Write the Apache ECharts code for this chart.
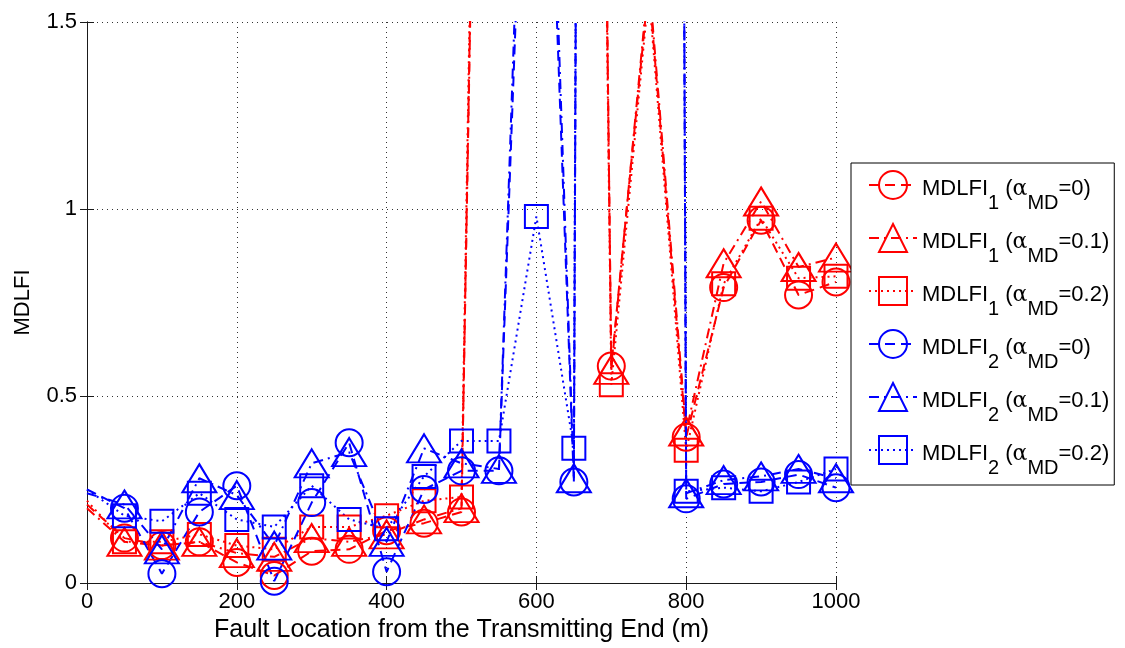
<!DOCTYPE html>
<html>
<head>
<meta charset="utf-8">
<script src="https://cdn.jsdelivr.net/npm/echarts@6/dist/echarts.min.js"></script>
<style>
  html, body { margin: 0; padding: 0; background: #ffffff; }
  #chart { width: 1125px; height: 648px; }
</style>
</head>
<body>
<div id="chart"></div>
<script>
// Fault positions along the line (m)
const faultLocations = [0, 50, 100, 150, 200, 250, 300, 350, 400, 450, 500,
                        550, 600, 650, 700, 750, 800, 850, 900, 950, 1000];

// MDLFI1 index for alpha_MD = 0, 0.1, 0.2
const mdlfi1Alpha0  = [0.21, 0.12, 0.10, 0.11, 0.055, 0.02, 0.085, 0.09, 0.14, 0.16, 0.19,
                       6.0, 8.0, 9.0, 0.58, 1.60, 0.39, 0.79, 0.97, 0.77, 0.805];
const mdlfi1Alpha01 = [0.20, 0.11, 0.10, 0.11, 0.08, 0.07, 0.12, 0.11, 0.13, 0.17, 0.20,
                       5.8, 8.0, 9.2, 0.57, 1.62, 0.405, 0.855, 1.02, 0.845, 0.87];
const mdlfi1Alpha02 = [0.22, 0.11, 0.11, 0.13, 0.10, 0.09, 0.15, 0.15, 0.18, 0.22, 0.23,
                       6.2, 8.0, 8.8, 0.53, 1.58, 0.355, 0.80, 0.975, 0.815, 0.82];

// MDLFI2 index for alpha_MD = 0, 0.1, 0.2
const mdlfi2Alpha0  = [0.25, 0.20, 0.025, 0.19, 0.26, 0.005, 0.215, 0.375, 0.03, 0.25, 0.30,
                       0.30, 3.0, 0.27, 25, 25, 0.225, 0.265, 0.27, 0.29, 0.255];
const mdlfi2Alpha01 = [0.24, 0.21, 0.09, 0.28, 0.235, 0.10, 0.32, 0.35, 0.11, 0.36, 0.32,
                       0.305, 3.2, 0.28, 25, 25, 0.24, 0.275, 0.285, 0.305, 0.28];
const mdlfi2Alpha02 = [0.25, 0.18, 0.165, 0.24, 0.17, 0.15, 0.26, 0.17, 0.145, 0.285, 0.38,
                       0.38, 0.98, 0.36, 25, 25, 0.245, 0.255, 0.245, 0.27, 0.305];

// Axis ticks
const xTicks = [0, 200, 400, 600, 800, 1000];
const yTicks = [0, 0.5, 1, 1.5];

// Legend entries: index number and alpha value
const seriesNames = ['MDLFI1 a0', 'MDLFI1 a0.1', 'MDLFI1 a0.2',
                     'MDLFI2 a0', 'MDLFI2 a0.1', 'MDLFI2 a0.2'];
const legendIndex = ['1', '1', '1', '2', '2', '2'];
const legendAlpha = ['0', '0.1', '0.2', '0', '0.1', '0.2'];

const RED = '#ff0000';
const BLUE = '#0000ff';
const FONT = '"Liberation Sans", Arial, Helvetica, sans-serif';

const dashStyle = [10, 6];
const dashDotStyle = [10, 5, 2, 5];
const dotStyle = [2, 4];

function toPoints(values) {
  // the line enters from the left border; no marker at the origin column
  return faultLocations.map((x, i) =>
    i === 0 ? { value: [x, values[i]], symbol: 'none' } : [x, values[i]]);
}

function makeSeries(name, values, color, symbol, size, dash) {
  return {
    name: name,
    type: 'line',
    xAxisIndex: 0,
    yAxisIndex: 0,
    data: toPoints(values),
    symbol: symbol,
    symbolSize: size,
    showAllSymbol: true,
    clip: true,
    animation: false,
    lineStyle: { color: color, width: 2, type: dash },
    itemStyle: { color: 'rgba(0,0,0,0)', borderColor: color, borderWidth: 2 },
    emphasis: { disabled: true }
  };
}

const series = [
  makeSeries(seriesNames[0], mdlfi1Alpha0,  RED,  'circle',   27,       dashStyle),
  makeSeries(seriesNames[1], mdlfi1Alpha01, RED,  'triangle', [34, 28], dashDotStyle),
  makeSeries(seriesNames[2], mdlfi1Alpha02, RED,  'rect',     23,       dotStyle),
  makeSeries(seriesNames[3], mdlfi2Alpha0,  BLUE, 'circle',   27,       dashStyle),
  makeSeries(seriesNames[4], mdlfi2Alpha01, BLUE, 'triangle', [34, 28], dashDotStyle),
  makeSeries(seriesNames[5], mdlfi2Alpha02, BLUE, 'rect',     23,       dotStyle)
];

const axisLineStyle = { color: '#1a1a1a', width: 1 };
const gridLineStyle = { color: '#333333', width: 1, type: [1, 4] };
const plainNumber = (v) => String(v);

const chart = echarts.init(document.getElementById('chart'), null, { renderer: 'canvas' });

chart.setOption({
  backgroundColor: '#ffffff',
  animation: false,
  textStyle: { fontFamily: FONT },
  grid: { left: 87, right: 289, top: 22, bottom: 64, containLabel: false },
  xAxis: [
    {
      type: 'value', position: 'bottom',
      min: xTicks[0], max: xTicks[xTicks.length - 1], interval: xTicks[1] - xTicks[0],
      name: 'Fault Location from the Transmitting End (m)',
      nameLocation: 'middle', nameGap: 35,
      nameTextStyle: { fontSize: 25, color: '#000', fontFamily: FONT },
      axisLine: { show: true, lineStyle: axisLineStyle },
      axisTick: { show: true, inside: true, length: 7, lineStyle: axisLineStyle },
      axisLabel: { fontSize: 22, color: '#000', margin: 8, fontFamily: FONT, formatter: plainNumber },
      splitLine: { show: true, lineStyle: gridLineStyle }
    },
    {
      type: 'value', position: 'top',
      min: xTicks[0], max: xTicks[xTicks.length - 1], interval: xTicks[1] - xTicks[0],
      axisLine: { show: true, lineStyle: axisLineStyle },
      axisTick: { show: true, inside: true, length: 7, lineStyle: axisLineStyle },
      axisLabel: { show: false },
      splitLine: { show: false }
    }
  ],
  yAxis: [
    {
      type: 'value', position: 'left',
      min: yTicks[0], max: yTicks[yTicks.length - 1], interval: yTicks[1] - yTicks[0],
      name: 'MDLFI',
      nameLocation: 'middle', nameGap: 53,
      nameTextStyle: { fontSize: 22, color: '#000', fontFamily: FONT },
      axisLine: { show: true, lineStyle: axisLineStyle },
      axisTick: { show: true, inside: true, length: 7, lineStyle: axisLineStyle },
      axisLabel: { fontSize: 22, color: '#000', margin: 10, fontFamily: FONT, formatter: plainNumber },
      splitLine: { show: true, lineStyle: gridLineStyle }
    },
    {
      type: 'value', position: 'right',
      min: yTicks[0], max: yTicks[yTicks.length - 1], interval: yTicks[1] - yTicks[0],
      axisLine: { show: true, lineStyle: axisLineStyle },
      axisTick: { show: true, inside: true, length: 7, lineStyle: axisLineStyle },
      axisLabel: { show: false },
      splitLine: { show: false }
    }
  ],
  legend: {
    show: true,
    orient: 'vertical',
    left: 851,
    top: 163,
    data: seriesNames,
    backgroundColor: '#ffffff',
    borderColor: '#000000',
    borderWidth: 1,
    borderRadius: 0,
    padding: [7, 5, 7, 17],
    itemGap: 10,
    itemWidth: 48,
    itemHeight: 35,
    selectedMode: false,
    formatter: function (name) {
      const k = seriesNames.indexOf(name);
      return '{m|MDLFI}{s|' + legendIndex[k] + '}{m| (}{g|α}{s|MD}{m|=' + legendAlpha[k] + ')}';
    },
    textStyle: {
      color: '#000',
      fontFamily: FONT,
      rich: {
        m: { fontSize: 22, lineHeight: 24, padding: [5, 0, 0, 0], verticalAlign: 'top', color: '#000', fontFamily: FONT },
        g: { fontSize: 22, lineHeight: 24, padding: [5, 0, 0, 0], verticalAlign: 'top', color: '#000', fontFamily: '"DejaVu Serif", serif' },
        s: { fontSize: 20, lineHeight: 14, padding: [20, 0, 0, 0], verticalAlign: 'top', color: '#000', fontFamily: FONT }
      }
    }
  },
  series: series
});
</script>
</body>
</html>
